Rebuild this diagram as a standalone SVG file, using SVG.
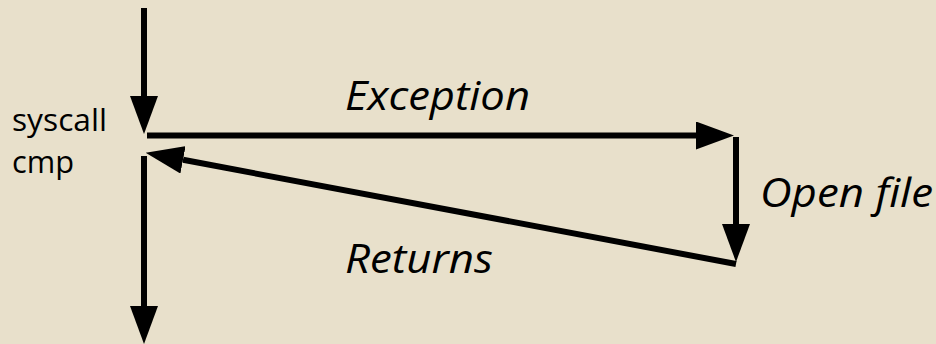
<svg xmlns="http://www.w3.org/2000/svg" width="936" height="344" viewBox="0 0 936 344">
<style>
.bg{fill:#E8E0CB}
.ln{stroke:#000;stroke-width:6;fill:none;marker-end:url(#ah)}
.lbl{font-family:"Open Sans","DejaVu Sans",sans-serif;font-size:31px;fill:#000}
.it{font-family:"Open Sans","DejaVu Sans",sans-serif;font-style:italic;font-size:40px;fill:#000}
</style>
<defs>
<marker id="ah" markerUnits="userSpaceOnUse" markerWidth="38" markerHeight="28" refX="0" refY="14" orient="auto" viewBox="0 0 38 28">
<path d="M0,0 L38,14 L0,28 z" fill="#000"/>
</marker>
</defs>
<rect class="bg" x="0" y="0" width="936" height="344"/>
<g id="connectors">
<line class="ln" x1="144" y1="8" x2="144" y2="96"/>
<line class="ln" x1="147" y1="135.5" x2="696" y2="135.5"/>
<line class="ln" x1="736" y1="137" x2="736" y2="224"/>
<line class="ln" x1="736" y1="264" x2="183" y2="159.8"/>
<line class="ln" x1="144" y1="156" x2="144" y2="306"/>
</g>
<g id="syscall"><text class="lbl" x="12" y="131" textLength="95" lengthAdjust="spacingAndGlyphs">syscall</text><text class="lbl" x="12" y="173" textLength="62" lengthAdjust="spacingAndGlyphs">cmp</text></g>
<g id="exception"><text class="it" x="345" y="110" textLength="185" lengthAdjust="spacingAndGlyphs">Exception</text></g>
<g id="openfile"><text class="it" x="760" y="207" textLength="173" lengthAdjust="spacingAndGlyphs">Open file</text></g>
<g id="returns"><text class="it" x="345" y="273" textLength="148" lengthAdjust="spacingAndGlyphs">Returns</text></g>
</svg>
